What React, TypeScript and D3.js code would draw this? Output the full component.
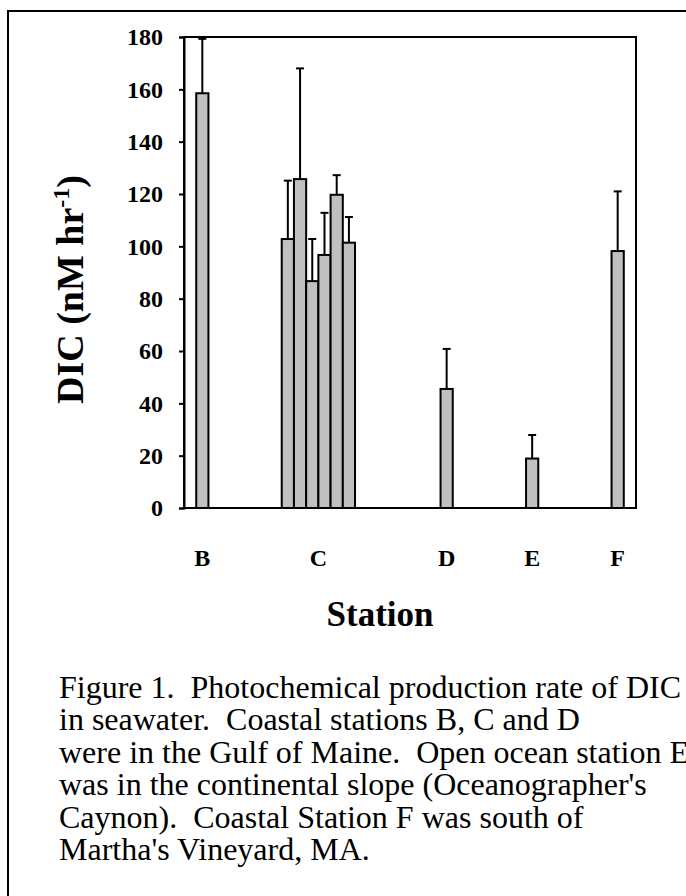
import React, { useEffect, useRef } from 'react';
import * as d3 from 'd3';

const stations = ['B', 'C', 'D', 'E', 'F'];
const barStation = ['B', 'C', 'C', 'C', 'C', 'C', 'C', 'D', 'E', 'F'];
const barSlot = [1, 8, 9, 10, 11, 12, 13, 21, 28, 35];
const dicRate = [158.5, 102.8, 125.7, 86.7, 96.7, 119.7, 101.4, 45.5, 18.9, 98.2];
const dicError = [20.8, 22.3, 42.3, 16.1, 16.1, 7.5, 9.8, 15.3, 9.0, 22.8];
const yTicks = [0, 20, 40, 60, 80, 100, 120, 140, 160, 180];
const slotCount = 37;

const captionLines = [
	'Figure 1.  Photochemical production rate of DIC',
	'in seawater.  Coastal stations B, C and D',
	'were in the Gulf of Maine.  Open ocean station E',
	"was in the continental slope (Oceanographer's",
	'Caynon).  Coastal Station F was south of',
	"Martha's Vineyard, MA.",
];

const serif = '"Liberation Serif", "Times New Roman", Times, serif';

export default function App() {
	const node = useRef<SVGSVGElement>(null);

	useEffect(() => {
		const svg = d3.select(node.current);
		svg.selectAll('*').remove();

		const margin = { top: 37, right: 50, bottom: 388, left: 184 };
		const width = 686;
		const height = 896;
		const innerWidth = width - margin.left - margin.right;
		const innerHeight = height - margin.top - margin.bottom;

		// outer frame of the figure, runs off the page on the right and bottom
		svg.append('path')
			.attr('d', `M8,${height + 10}V11H${width + 10}`)
			.attr('fill', 'none')
			.attr('stroke', '#000')
			.attr('stroke-width', 2);

		const xScale = d3.scaleBand<number>()
			.domain(d3.range(slotCount))
			.range([0, innerWidth])
			.padding(0);

		const yScale = d3.scaleLinear()
			.domain([0, 180])
			.range([innerHeight, 0]);

		const g = svg.append('g')
			.attr('transform', `translate(${margin.left},${margin.top})`);

		g.append('rect')
			.attr('width', innerWidth)
			.attr('height', innerHeight)
			.attr('fill', 'none')
			.attr('stroke', '#000')
			.attr('stroke-width', 2);

		const yAxis = g.append('g')
			.call(d3.axisLeft(yScale).tickValues(yTicks).tickSize(5).tickPadding(16));
		yAxis.select('.domain').attr('stroke-width', 2);
		yAxis.selectAll('line').attr('stroke-width', 2);
		yAxis.selectAll('text')
			.attr('font-family', serif)
			.attr('font-weight', 'bold')
			.attr('font-size', 24)
			.attr('fill', '#000');

		const bars = barSlot.map((slot, i) => ({
			slot,
			station: barStation[i],
			value: dicRate[i],
			err: dicError[i],
		}));

		const bw = xScale.bandwidth();

		// error bars (upper only)
		const eb = g.selectAll('.err').data(bars).enter().append('g').attr('class', 'err');
		eb.append('line')
			.attr('x1', (d) => xScale(d.slot)! + bw / 2)
			.attr('x2', (d) => xScale(d.slot)! + bw / 2)
			.attr('y1', (d) => yScale(d.value))
			.attr('y2', (d) => yScale(d.value + d.err))
			.attr('stroke', '#000')
			.attr('stroke-width', 2);
		eb.append('line')
			.attr('x1', (d) => xScale(d.slot)! + bw / 2 - 4)
			.attr('x2', (d) => xScale(d.slot)! + bw / 2 + 4)
			.attr('y1', (d) => yScale(d.value + d.err))
			.attr('y2', (d) => yScale(d.value + d.err))
			.attr('stroke', '#000')
			.attr('stroke-width', 2);

		g.selectAll('.bar')
			.data(bars)
			.enter()
			.append('rect')
			.attr('class', 'bar')
			.attr('x', (d) => xScale(d.slot)!)
			.attr('y', (d) => yScale(d.value))
			.attr('width', bw)
			.attr('height', (d) => innerHeight - yScale(d.value))
			.attr('fill', '#c0c0c0')
			.attr('stroke', '#000')
			.attr('stroke-width', 2);

		// station labels centred under their bars
		g.selectAll('.station')
			.data(stations)
			.enter()
			.append('text')
			.attr('x', (s) => d3.mean(bars.filter((b) => b.station === s), (b) => xScale(b.slot)! + bw / 2)!)
			.attr('y', innerHeight + 58)
			.attr('text-anchor', 'middle')
			.attr('font-family', serif)
			.attr('font-weight', 'bold')
			.attr('font-size', 24)
			.text((s) => s);

		g.append('text')
			.attr('x', innerWidth / 2 - 30)
			.attr('y', innerHeight + 118)
			.attr('text-anchor', 'middle')
			.attr('font-family', serif)
			.attr('font-weight', 'bold')
			.attr('font-size', 35)
			.text('Station');

		const yLabel = svg.append('text')
			.attr('transform', `translate(83,${margin.top + innerHeight / 2 + 17}) rotate(-90)`)
			.attr('text-anchor', 'middle')
			.attr('font-family', serif)
			.attr('font-weight', 'bold')
			.attr('font-size', 38);
		yLabel.append('tspan').text('DIC (nM hr');
		yLabel.append('tspan').attr('font-size', 24).attr('dy', -14).text('-1');
		yLabel.append('tspan').attr('dy', 14).text(')');

		svg.append('g')
			.selectAll('text')
			.data(captionLines)
			.enter()
			.append('text')
			.attr('x', 59)
			.attr('y', (d, i) => 698 + i * 32.4)
			.attr('font-family', serif)
			.attr('font-size', 32)
			.style('white-space', 'pre')
			.attr('xml:space', 'preserve')
			.text((d) => d);
	}, []);

	return (
		<svg
			ref={node}
			width={686}
			height={896}
			style={{ position: 'absolute', left: 0, top: 0, background: '#fff' }}
		/>
	);
}
